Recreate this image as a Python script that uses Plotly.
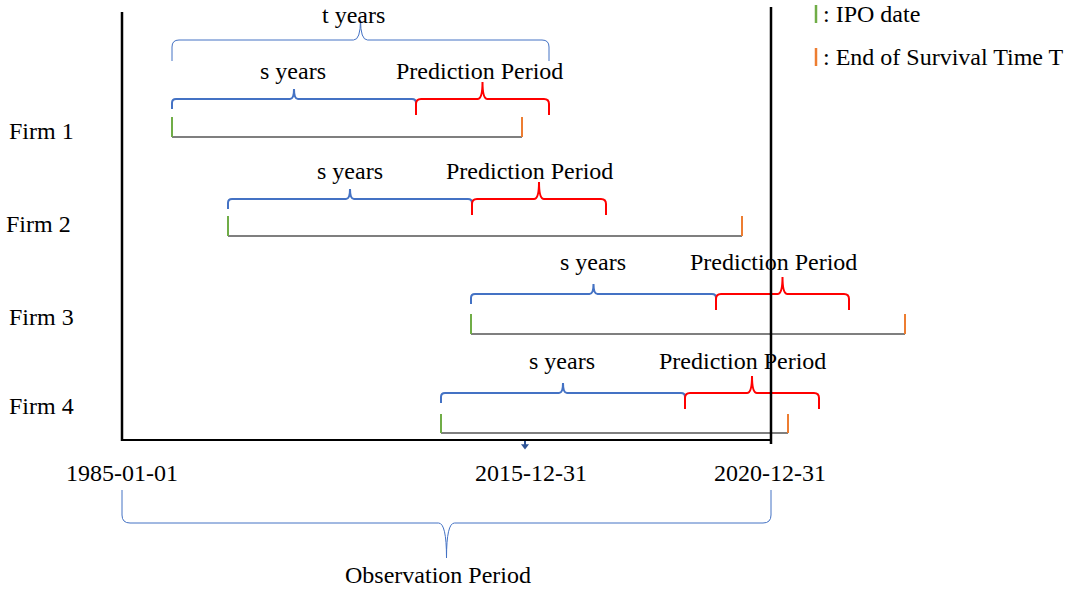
import plotly.graph_objects as go

# ---------------- data (diagram units: 0..1077 horizontally, 0..594 vertically) ----------------
firms = ["Firm 1", "Firm 2", "Firm 3", "Firm 4"]
firm_label_x = [41, 38, 41, 41]
firm_label_y = [131, 224, 317, 406]
ipo_x = [172, 228, 471, 441]
end_x = [522, 742, 905, 788]
timeline_y = [137, 236, 334, 433]
tick_top_y = [117, 216, 314, 414]
s_end_x = [416, 472, 716, 685]
pred_end_x = [549, 606, 849, 819]
brace_y = [99, 199, 294, 393]
s_label_x = [293, 350, 593, 562]
pred_label_x = [479, 529, 773, 742]
brace_label_y = [71, 171, 262, 361]

t_brace = dict(x0=172, x1=549, y=40, depth=21, tip=20, label="t years", label_x=353, label_y=0.5)

obs_start, obs_end, split_x = 122, 771, 525
axis_top, axis_bottom = 12, 440
right_top, right_bottom = 7, 444
date_labels = ["1985-01-01", "2015-12-31", "2020-12-31"]
date_label_x = [122, 531, 770]
date_label_y = 473
obs_brace = dict(x0=122, x1=771, y=523, depth=-33, tip=-35, label="Observation Period", label_x=438, label_y=575)

legend_items = [": IPO date", ": End of Survival Time T"]
legend_colors = ["#70AD47", "#ED7D31"]
legend_y = [14, 57]
legend_tick_x = 816

BLUE = "#4472C4"
RED = "#FF0000"
GREEN = "#70AD47"
ORANGE = "#ED7D31"
GREY = "#7F7F7F"
FONT = "Liberation Serif, Times New Roman, serif"
FS = 24


def brace_path(x0, x1, y, depth, tip, r=5):
    """Curly brace; ends go toward +depth, tip toward -tip (sign handles direction)."""
    xm = (x0 + x1) / 2
    sd = 1 if depth > 0 else -1
    return (
        f"M {x0},{y + depth} L {x0},{y + sd * r} Q {x0},{y} {x0 + r},{y} "
        f"L {xm - r},{y} Q {xm},{y} {xm},{y - tip} Q {xm},{y} {xm + r},{y} "
        f"L {x1 - r},{y} Q {x1},{y} {x1},{y + sd * r} L {x1},{y + depth}"
    )


fig = go.Figure()
shapes = []
annotations = []


def line(x0, y0, x1, y1, color, width):
    shapes.append(dict(type="line", xref="x", yref="y", x0=x0, y0=y0, x1=x1, y1=y1,
                       line=dict(color=color, width=width)))


def text(x, y, s, xanchor="center", yanchor="middle"):
    annotations.append(dict(x=x, y=y, xref="x", yref="y", text=s, showarrow=False,
                            xanchor=xanchor, yanchor=yanchor, borderpad=0,
                            font=dict(family=FONT, size=FS, color="black")))


# firms
for i, name in enumerate(firms):
    text(firm_label_x[i], firm_label_y[i], name)
    # timeline
    line(ipo_x[i], timeline_y[i], end_x[i], timeline_y[i], GREY, 2)
    line(ipo_x[i], tick_top_y[i], ipo_x[i], timeline_y[i], GREEN, 2)
    line(end_x[i], tick_top_y[i], end_x[i], timeline_y[i], ORANGE, 2)
    # s years brace
    shapes.append(dict(type="path", xref="x", yref="y",
                       path=brace_path(ipo_x[i], s_end_x[i], brace_y[i], 10, 10, r=4),
                       line=dict(color=BLUE, width=2)))
    # prediction period brace
    shapes.append(dict(type="path", xref="x", yref="y",
                       path=brace_path(s_end_x[i], pred_end_x[i], brace_y[i], 16, 17, r=5),
                       line=dict(color=RED, width=2)))
    text(s_label_x[i], brace_label_y[i], "s years")
    text(pred_label_x[i], brace_label_y[i], "Prediction Period")

# t years brace
shapes.append(dict(type="path", xref="x", yref="y",
                   path=brace_path(t_brace["x0"], t_brace["x1"], t_brace["y"], t_brace["depth"], t_brace["tip"], r=7),
                   line=dict(color=BLUE, width=1)))
text(t_brace["label_x"], t_brace["label_y"], t_brace["label"], yanchor="top")

# observation axes
line(obs_start, axis_top, obs_start, axis_bottom + 1, "black", 2.5)
line(obs_start, axis_bottom, obs_end, axis_bottom, "black", 2)
line(obs_end, right_top, obs_end, right_bottom, "black", 2.5)
# small arrow at split date
line(split_x, axis_bottom + 1, split_x, axis_bottom + 5, "#2F5597", 2)
fig.add_trace(go.Scatter(x=[split_x], y=[axis_bottom + 6], mode="markers",
                         marker=dict(symbol="triangle-down", size=7, color="#2F5597"),
                         hoverinfo="skip", showlegend=False))

for lbl, x in zip(date_labels, date_label_x):
    text(x, date_label_y, lbl)

shapes.append(dict(type="path", xref="x", yref="y",
                   path=brace_path(obs_brace["x0"], obs_brace["x1"], obs_brace["y"], obs_brace["depth"], obs_brace["tip"], r=8),
                   line=dict(color=BLUE, width=1)))
text(obs_brace["label_x"], obs_brace["label_y"], obs_brace["label"])

# legend
for lbl, col, y in zip(legend_items, legend_colors, legend_y):
    line(legend_tick_x, y - 9, legend_tick_x, y + 9, col, 2.5)
    text(legend_tick_x + 6, y, lbl, xanchor="left")

fig.update_layout(
    width=1077, height=594,
    margin=dict(l=0, r=0, t=0, b=0),
    paper_bgcolor="white", plot_bgcolor="white",
    xaxis=dict(range=[0, 1077], visible=False, fixedrange=True),
    yaxis=dict(range=[594, 0], visible=False, fixedrange=True),
    shapes=shapes, annotations=annotations, showlegend=False,
)
fig.write_html("out.html", config={"displayModeBar": False})

# remove the browser's default body margin so the diagram sits at the page origin
with open("out.html", "r", encoding="utf-8") as f:
    html = f.read()
html = html.replace("<body>", '<body style="margin:0;padding:0;overflow:hidden">', 1)
with open("out.html", "w", encoding="utf-8") as f:
    f.write(html)
